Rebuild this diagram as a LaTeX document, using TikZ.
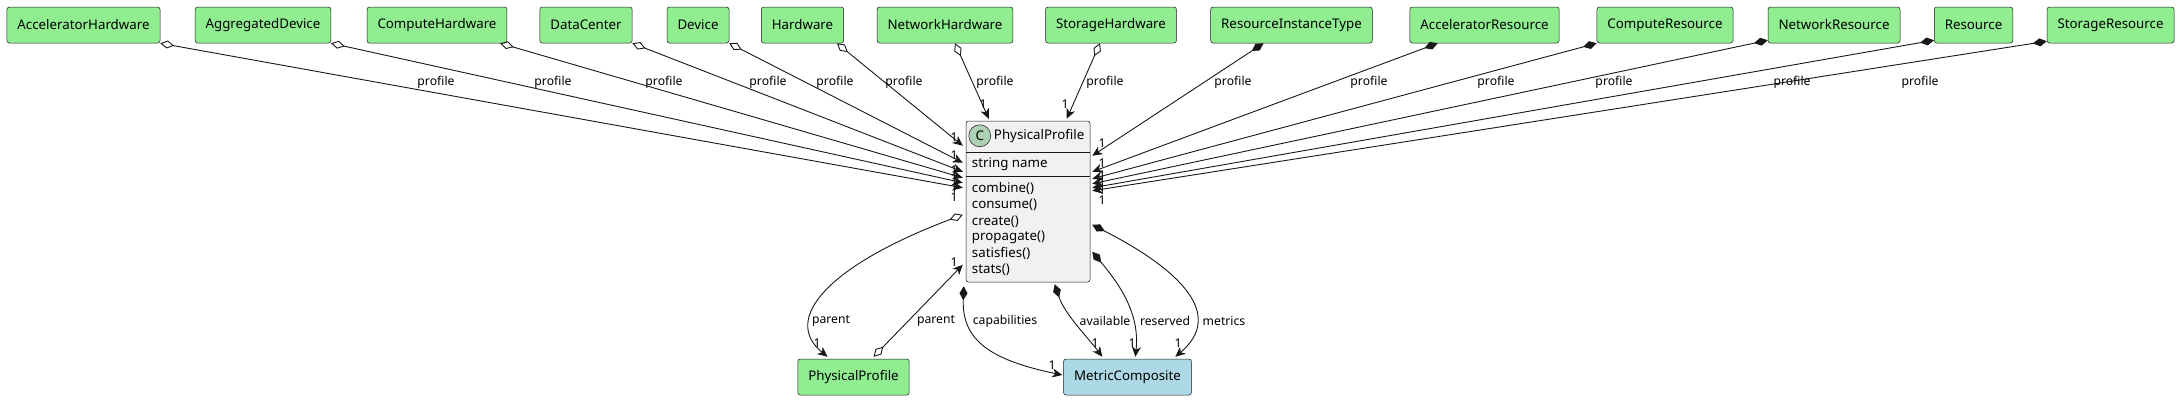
\documentclass[tikz,border=0pt]{standalone}
\usepackage{fontspec}
\setmainfont{Noto Sans}
\usetikzlibrary{arrows.meta,calc}

\definecolor{boxgreen}{HTML}{90EE90}
\definecolor{boxblue}{HTML}{ADD8E6}
\definecolor{classfill}{HTML}{F1F1F1}
\definecolor{circfill}{HTML}{ADD1B2}
\definecolor{linecol}{HTML}{181818}

\newcommand{\boxfont}{\fontsize{13.3bp}{16bp}\selectfont}
\newcommand{\labfont}{\fontsize{12.2bp}{14bp}\selectfont}

\begin{document}
\begin{tikzpicture}[x=1bp,y=-1bp,line join=bevel,
  entity/.style={draw=linecol,line width=0.5bp,fill=boxgreen,rounded corners=2.5bp,
    minimum height=36bp,inner xsep=10.5bp,font=\boxfont},
  metricbox/.style={entity,fill=boxblue},
  classbox/.style={draw=linecol,line width=0.5bp,fill=classfill,rounded corners=2.5bp,
    minimum width=124bp,minimum height=161bp,inner sep=0pt},
  member/.style={anchor=west,inner sep=0pt,font=\boxfont},
  lab/.style={inner sep=0pt,font=\labfont},
  agg/.style={draw=linecol,line width=0.9bp,
    {Diamond[open,length=14bp,width=8bp]}-{Stealth[length=10bp,width=9bp,inset=3bp]}},
  comp/.style={draw=linecol,line width=0.9bp,
    {Diamond[length=14bp,width=8bp]}-{Stealth[length=10bp,width=9bp,inset=3bp]}},
]
\fill[white] (0,0) rectangle (2178,400);
\useasboundingbox (0,0) rectangle (2178,400);
%%
  % Node: top row
\node[entity] (ahw)  at (83.5,25)   {AcceleratorHardware};
\node[entity] (agd)  at (263,25)    {AggregatedDevice};
\node[entity] (chw)  at (437,25)    {ComputeHardware};
\node[entity] (dc)   at (586,25)    {DataCenter};
\node[entity] (dev)  at (698,25)    {Device};
\node[entity] (hw)   at (802.5,25)  {Hardware};
\node[entity] (nhw)  at (945,25)    {NetworkHardware};
\node[entity] (shw)  at (1111,25)   {StorageHardware};
\node[entity] (rit)  at (1291.5,25) {ResourceInstanceType};
\node[entity] (ares) at (1484.5,25) {AcceleratorResource};
\node[entity] (cres) at (1665,25)   {ComputeResource};
\node[entity] (nres) at (1834,25)   {NetworkResource};
\node[entity] (res)  at (1973.5,25) {Resource};
\node[entity] (sres) at (2110.5,25) {StorageResource};
  % Node: pp
\node[classbox] (pp) at (1028,201.5) {};
\node[circle,fill=circfill,draw=linecol,line width=0.5bp,minimum size=22bp,inner sep=0pt,
  font=\boxfont\bfseries] (ppcirc) at ($(pp.north west)+(14,15)$) {C};
\node[member] (pptitle) at ($(pp.north west)+(28,15)$) {PhysicalProfile};
\draw[linecol,line width=0.5bp] ($(pp.north west)+(0,31)$) -- ($(pp.north east)+(0,31)$);
\draw[linecol,line width=0.5bp] ($(pp.north west)+(0,55)$) -- ($(pp.north east)+(0,55)$);
\node[member] (ppattr) at ($(pp.north west)+(6,43)$) {string name};
\foreach \m [count=\i] in {{combine()},{consume()},{create()},{propagate()},{satisfies()},{stats()}}
  \node[member] (m\i) at ($(pp.north west)+(6,{52+16.2*\i})$) {\m};
  % Node: ppc, mc
\node[entity] (ppc) at (853.5,377) {PhysicalProfile};
\node[metricbox] (mc) at (1127.5,377) {MetricComposite};
%%
  % Edge: left row -> pp
\draw[agg] (ahw.south east) -- ($(pp.north west)+(-3,67)$);
\draw[agg] (agd.south east) -- ($(pp.north west)+(-3,62)$);
\draw[agg] ($(chw.south east)+(-7,0)$) -- ($(pp.north west)+(-3,57)$);
\draw[agg] (dc.south east) -- ($(pp.north west)+(-3,51)$);
\draw[agg] (dev.south east) -- ($(pp.north west)+(-3,42)$);
\draw[agg] ($(hw.south east)+(-7,0)$) -- ($(pp.north west)+(-3,25)$);
  % Edge: nhw, shw -> pp
\draw[agg] ($(nhw.south)+(10,0)$) -- ($(pp.north west)+(23,-2)$);
\draw[agg] ($(shw.south)+(-11,0)$) -- ($(pp.north west)+(101,-2)$);
  % Edge: right row -> pp
\draw[comp] ($(rit.south)+(-28,0)$) -- ($(pp.north east)+(2,35)$);
\draw[comp] ($(ares.south west)+(28,0)$) -- ($(pp.north east)+(2,51)$);
\draw[comp] (cres.south west) -- ($(pp.north east)+(2,58)$);
\draw[comp] ($(nres.south west)+(0,-3)$) -- ($(pp.north east)+(2,63)$);
\draw[comp] ($(res.south west)+(0,-3)$) -- ($(pp.north east)+(2,67)$);
\draw[comp] ($(sres.south west)+(0,-2)$) -- ($(pp.north east)+(2,70)$);
  % Edge labels: profile
\foreach \x [count=\i] in {436,553,664,768,835,904,995,1105,1233,1369,1496,1614,1792,1920}
  \node[lab] (prof\i) at (\x,82) {profile};
  % Edge labels: 1 (left, right, top)
\foreach \y [count=\i] in {137,155,170,178,188,197}
  \node[lab] (ml\i) at (954,\y) {1};
\foreach \y [count=\i] in {143,163,175,182,190,200}
  \node[lab] (mr\i) at (1102,\y) {1};
\node[lab] (mt1) at (983,104) {1};
\node[lab] (mt2) at (1065,104) {1};
%%
  % Edge: pp -> ppc (parent)
\draw[agg] ($(pp.north west)+(-3,94)$) .. controls +(-133,50) and +(-47,-38) .. ($(ppc.north west)+(30,-2)$);
\node[lab] (par1) at (831,321) {parent};
\node[lab] (mp1) at (817,343) {1};
  % Edge: ppc -> pp (parent)
\draw[agg] ($(ppc.north west)+(76,-2)$) -- ($(pp.north west)+(-3,144)$);
\node[lab] (par2) at (936,321) {parent};
\node[lab] (mp2) at (954,262) {1};
  % Edge: pp -> mc (capabilities)
\draw[comp] ($(pp.south west)+(-2,4)$) .. controls +(-2,54) and +(-72,-15) .. ($(mc.west)+(-1,-2)$);
\node[lab] (cap) at (1005,321) {capabilities};
\node[lab] (mc1) at (1052,365) {1};
  % Edge: pp -> mc (available)
\draw[comp] ($(pp.south west)+(89,2)$) .. controls +(10,30) and +(-15,-20) .. ($(mc.north west)+(39,-2)$);
\node[lab] (avl) at (1105,321) {available};
\node[lab] (mc2) at (1095,343) {1};
  % Edge: pp -> mc (reserved)
\draw[comp] ($(pp.north east)+(2,131)$) .. controls +(25,30) and +(5,-45) .. ($(mc.north west)+(72,-2)$);
\node[lab] (rsv) at (1165,321) {reserved};
\node[lab] (mc3) at (1132,343) {1};
  % Edge: pp -> mc (metrics)
\draw[comp] ($(pp.north east)+(2,104)$) .. controls +(88,45) and +(50,-42) .. ($(mc.north west)+(112,-2)$);
\node[lab] (mtr) at (1224,321) {metrics};
\node[lab] (mc4) at (1178,343) {1};
%
\end{tikzpicture}
\end{document}
